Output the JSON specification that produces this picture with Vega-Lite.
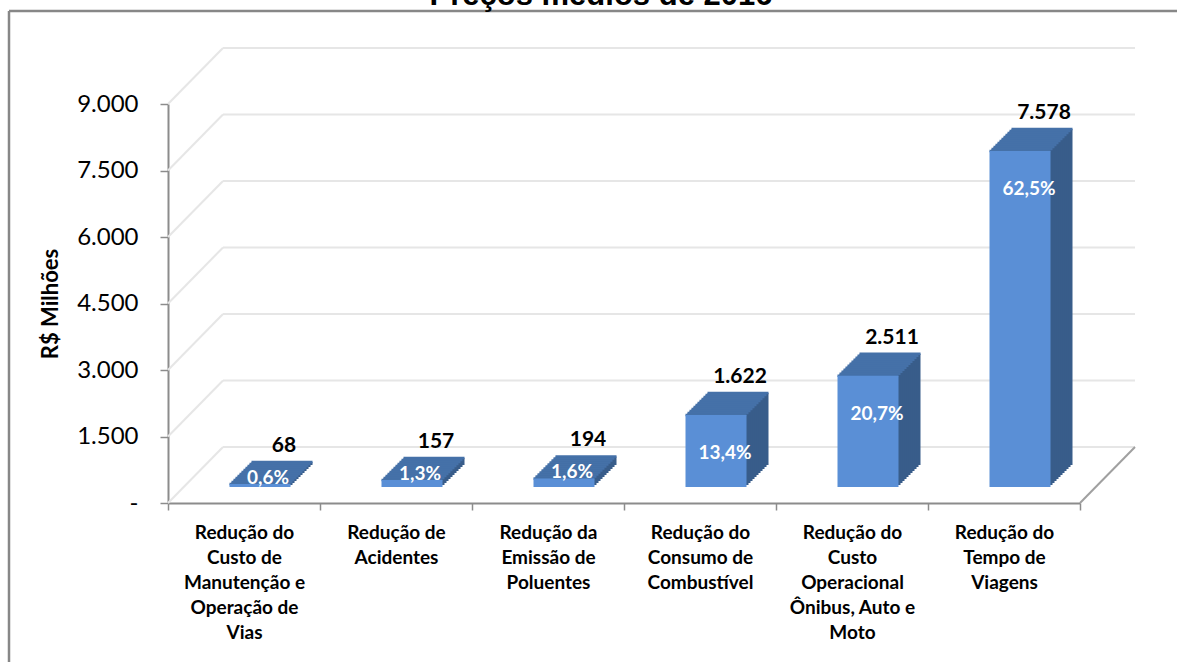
{
  "$schema": "https://vega.github.io/schema/vega-lite/v6.json",
  "autosize": "none",
  "width": 1168,
  "height": 651,
  "padding": {"left": 9, "top": 11, "right": 0, "bottom": 0},
  "background": "white",
  "title": {"text": "Preços médios de 2016", "font": "Liberation Sans", "fontSize": 31, "fontWeight": "bold", "color": "#000000", "anchor": "middle", "baseline": "alphabetic", "offset": 4, "dx": 8, "dy": 29},
  "config": {
    "view": {"stroke": "#878787", "strokeWidth": 2.5, "fill": "white", "strokeDash": [1168, 1819, 651, 0]},
    "locale": {"number": {"decimal": ",", "thousands": ".", "grouping": [3], "currency": ["R$", ""]}}
  },
  "datasets": {
    "bars": [
      {"cat": "Redução do\nCusto de\nManutenção e\nOperação de\nVias", "value": 68, "pct": 0.006},
      {"cat": "Redução de\nAcidentes", "value": 157, "pct": 0.013},
      {"cat": "Redução da\nEmissão de\nPoluentes", "value": 194, "pct": 0.016},
      {"cat": "Redução do\nConsumo de\nCombustível", "value": 1622, "pct": 0.134},
      {"cat": "Redução do\nCusto\nOperacional\nÔnibus, Auto e\nMoto", "value": 2511, "pct": 0.207},
      {"cat": "Redução do\nTempo de\nViagens", "value": 7578, "pct": 0.625}
    ],
    "grid": [{"value": 0}, {"value": 1500}, {"value": 3000}, {"value": 4500}, {"value": 6000}, {"value": 7500}, {"value": 9000}]
  },
  "data": {"name": "bars"},
  "encoding": {
    "x": {"field": "cat", "type": "nominal", "sort": null,
      "scale": {"domain": ["Redução do\nCusto de\nManutenção e\nOperação de\nVias", "Redução de\nAcidentes", "Redução da\nEmissão de\nPoluentes", "Redução do\nConsumo de\nCombustível", "Redução do\nCusto\nOperacional\nÔnibus, Auto e\nMoto", "Redução do\nTempo de\nViagens"], "range": [159, 1071], "paddingInner": 0, "paddingOuter": 0},
      "axis": {"title": null, "labelExpr": "split(datum.label, '\\n')", "labelAngle": 0, "labelFont": "Lato", "labelFontWeight": "bold", "labelFontSize": 19, "labelLineHeight": 25, "labelColor": "#000000", "labelPadding": 13, "labelBaseline": "top", "labelLimit": 0, "labelOverlap": false, "tickBand": "extent", "tickSize": 7, "tickColor": "#8c8c8c", "tickWidth": 1.5, "domainColor": "#8c8c8c", "domainWidth": 2, "offset": -159, "grid": false}},
    "y": {"field": "value", "type": "quantitative",
      "scale": {"domain": [0, 9000], "range": [492, 93], "nice": false, "zero": true},
      "axis": {"title": "R$ Milhões", "values": [0, 1500, 3000, 4500, 6000, 7500, 9000], "format": ",.0f", "labelExpr": "datum.value === 0 ? '-\u00a0\u00a0' : datum.label", "offset": -159, "grid": false, "domainColor": "#8c8c8c", "domainWidth": 2, "tickColor": "#8c8c8c", "tickSize": 8, "tickWidth": 1.5, "labelFont": "Lato", "labelFontSize": 24, "labelColor": "#000000", "labelPadding": 22, "titleFont": "Lato", "titleFontSize": 22, "titleFontWeight": "bold", "titleColor": "#000000", "titlePadding": 14}}
  },
  "layer": [
    {"data": {"name": "grid"},
     "mark": {"type": "rule", "color": "#e6e6e6", "strokeWidth": 2, "xOffset": 55, "x2Offset": 55, "yOffset": -56},
     "encoding": {
       "x": {"datum": "Redução do\nCusto de\nManutenção e\nOperação de\nVias", "type": "nominal", "bandPosition": 0},
       "x2": {"datum": "Redução do\nTempo de\nViagens", "bandPosition": 1}
     }},
    {"data": {"name": "grid"},
     "mark": {"type": "rule", "color": "#e6e6e6", "strokeWidth": 2, "x2Offset": 55, "y2Offset": -56},
     "encoding": {
       "x": {"datum": "Redução do\nCusto de\nManutenção e\nOperação de\nVias", "type": "nominal", "bandPosition": 0},
       "x2": {"datum": "Redução do\nCusto de\nManutenção e\nOperação de\nVias", "bandPosition": 0},
       "y2": {"field": "value"}
     }},
    {"data": {"name": "grid"},
     "transform": [{"filter": "datum.value === 0"}],
     "mark": {"type": "rule", "color": "#a0a0a0", "strokeWidth": 2, "x2Offset": 55, "y2Offset": -56},
     "encoding": {
       "x": {"datum": "Redução do\nTempo de\nViagens", "type": "nominal", "bandPosition": 1},
       "x2": {"datum": "Redução do\nTempo de\nViagens", "bandPosition": 1},
       "y2": {"field": "value"}
     }},
    {"mark": {"type": "bar", "color": "#385d8a", "width": 61, "xOffset": 38, "yOffset": -38, "y2Offset": -38}},
    {"mark": {"type": "bar", "color": "#385d8a", "width": 61, "xOffset": 36, "yOffset": -36, "y2Offset": -36}},
    {"mark": {"type": "bar", "color": "#385d8a", "width": 61, "xOffset": 34, "yOffset": -34, "y2Offset": -34}},
    {"mark": {"type": "bar", "color": "#385d8a", "width": 61, "xOffset": 32, "yOffset": -32, "y2Offset": -32}},
    {"mark": {"type": "bar", "color": "#385d8a", "width": 61, "xOffset": 30, "yOffset": -30, "y2Offset": -30}},
    {"mark": {"type": "bar", "color": "#385d8a", "width": 61, "xOffset": 28, "yOffset": -28, "y2Offset": -28}},
    {"mark": {"type": "bar", "color": "#385d8a", "width": 61, "xOffset": 26, "yOffset": -26, "y2Offset": -26}},
    {"mark": {"type": "bar", "color": "#385d8a", "width": 61, "xOffset": 24, "yOffset": -24, "y2Offset": -24}},
    {"mark": {"type": "bar", "color": "#385d8a", "width": 61, "xOffset": 22, "yOffset": -22, "y2Offset": -22}},
    {"mark": {"type": "bar", "color": "#385d8a", "width": 61, "xOffset": 20, "yOffset": -20, "y2Offset": -20}},
    {"mark": {"type": "bar", "color": "#385d8a", "width": 61, "xOffset": 18, "yOffset": -18, "y2Offset": -18}},
    {"mark": {"type": "tick", "color": "#4571a8", "opacity": 1, "thickness": 2.5, "size": 61, "xOffset": 38, "yOffset": -38}},
    {"mark": {"type": "tick", "color": "#4571a8", "opacity": 1, "thickness": 2.5, "size": 61, "xOffset": 36, "yOffset": -36}},
    {"mark": {"type": "tick", "color": "#4571a8", "opacity": 1, "thickness": 2.5, "size": 61, "xOffset": 34, "yOffset": -34}},
    {"mark": {"type": "tick", "color": "#4571a8", "opacity": 1, "thickness": 2.5, "size": 61, "xOffset": 32, "yOffset": -32}},
    {"mark": {"type": "tick", "color": "#4571a8", "opacity": 1, "thickness": 2.5, "size": 61, "xOffset": 30, "yOffset": -30}},
    {"mark": {"type": "tick", "color": "#4571a8", "opacity": 1, "thickness": 2.5, "size": 61, "xOffset": 28, "yOffset": -28}},
    {"mark": {"type": "tick", "color": "#4571a8", "opacity": 1, "thickness": 2.5, "size": 61, "xOffset": 26, "yOffset": -26}},
    {"mark": {"type": "tick", "color": "#4571a8", "opacity": 1, "thickness": 2.5, "size": 61, "xOffset": 24, "yOffset": -24}},
    {"mark": {"type": "tick", "color": "#4571a8", "opacity": 1, "thickness": 2.5, "size": 61, "xOffset": 22, "yOffset": -22}},
    {"mark": {"type": "tick", "color": "#4571a8", "opacity": 1, "thickness": 2.5, "size": 61, "xOffset": 20, "yOffset": -20}},
    {"mark": {"type": "tick", "color": "#4571a8", "opacity": 1, "thickness": 2.5, "size": 61, "xOffset": 18, "yOffset": -18}},
    {"mark": {"type": "tick", "color": "#4571a8", "opacity": 1, "thickness": 2.5, "size": 61, "xOffset": 16, "yOffset": -16}},
    {"mark": {"type": "bar", "color": "#5a8fd6", "width": 61, "xOffset": 16, "yOffset": -16, "y2Offset": -16}},
    {"mark": {"type": "text", "font": "Lato", "fontWeight": "bold", "fontSize": 21, "color": "#000000", "baseline": "middle", "align": "center", "xOffset": 40, "yOffset": -54},
     "encoding": {"text": {"field": "value", "type": "quantitative", "format": ",.0f"}}},
    {"transform": [{"filter": "datum.value > 1000"}],
     "mark": {"type": "text", "font": "Lato", "fontWeight": "bold", "fontSize": 19, "color": "#ffffff", "baseline": "middle", "align": "center", "xOffset": 25, "yOffset": 22},
     "encoding": {"text": {"field": "pct", "type": "quantitative", "format": ".1%"}}},
    {"transform": [{"filter": "datum.value < 1000"}],
     "mark": {"type": "text", "font": "Lato", "fontWeight": "bold", "fontSize": 19, "color": "#ffffff", "baseline": "middle", "align": "center", "xOffset": 24, "yOffset": -22},
     "encoding": {"text": {"field": "pct", "type": "quantitative", "format": ".1%"}}}
  ]
}
